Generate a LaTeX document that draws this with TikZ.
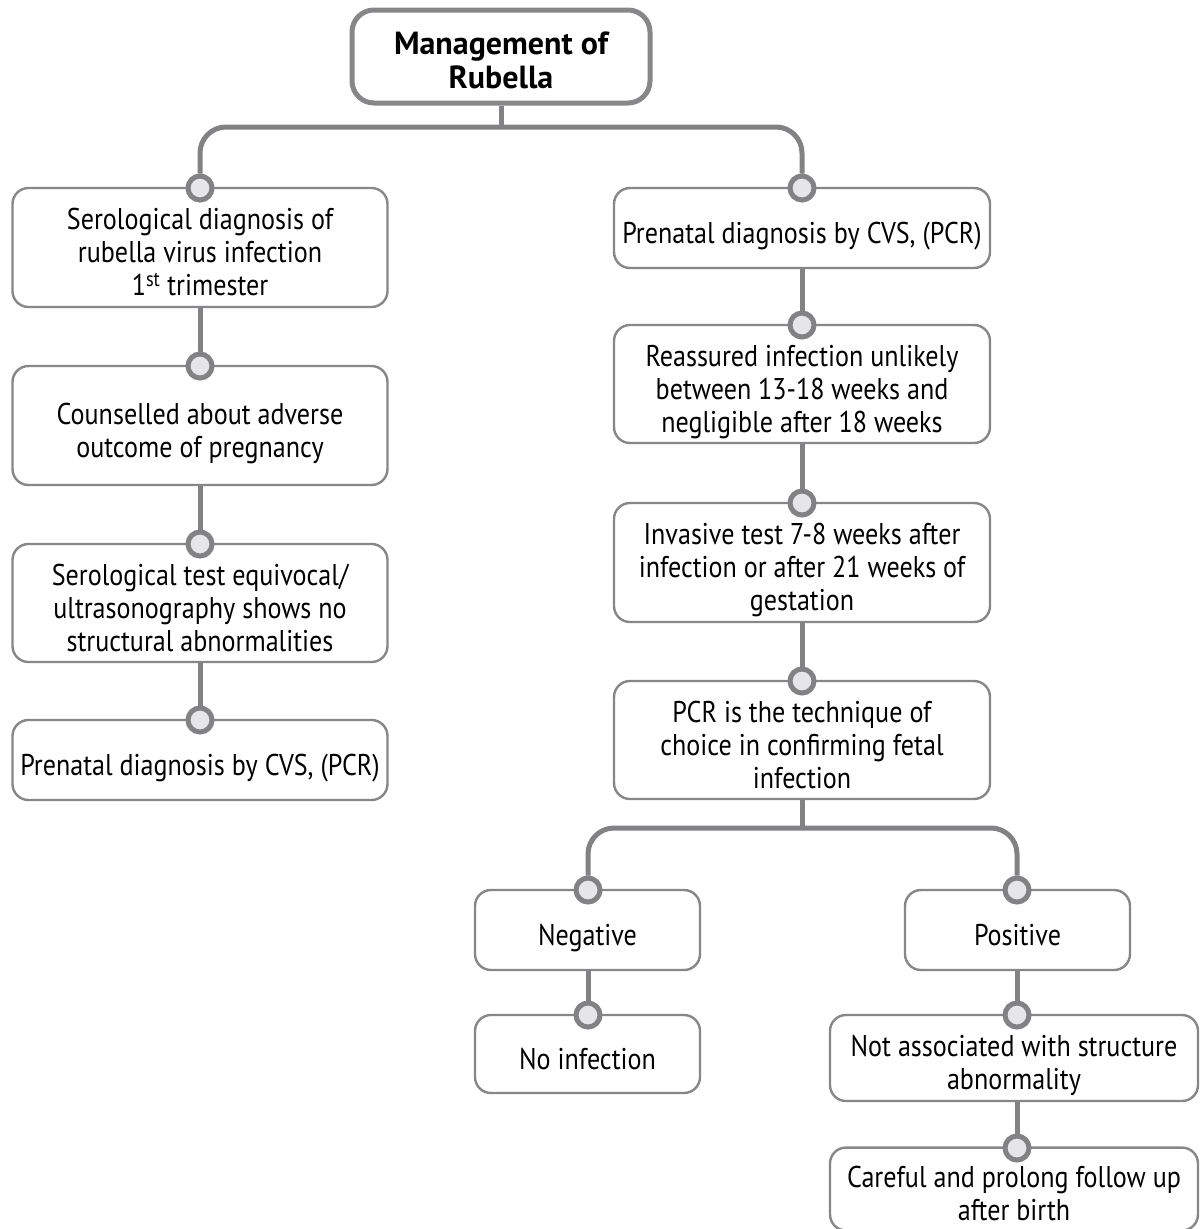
\documentclass[tikz,border=0pt]{standalone}
\usepackage{fontspec}
\setmainfont{PT Sans}[FakeStretch=0.87]
\newfontfamily\titlefont{PT Sans}
% centred block of lines, set a little low so it sits below the top dot
\newcommand\txt[1]{\begin{tabular}{@{}c@{}}\rule{0pt}{40pt}#1\end{tabular}}
\begin{document}
\begin{tikzpicture}[x=1pt,y=-1pt,
  box/.style={draw=boxgray, line width=2.4pt, rounded corners=16pt, fill=white,
    inner sep=0pt, font=\fontsize{30}{33}\selectfont},
  titlebox/.style={draw=boxgray, line width=5pt, rounded corners=22pt, fill=white,
    inner sep=0pt, font=\titlefont\fontsize{32}{34}\selectfont\bfseries},
  conn/.style={draw=linegray, line width=5pt},
  dot/.style={circle, draw=linegray, line width=5pt, fill=dotfill,
    minimum size=24pt, inner sep=0pt}
]
\definecolor{boxgray}{HTML}{87878A}
\definecolor{linegray}{HTML}{828285}
\definecolor{dotfill}{HTML}{E6E6E8}
\useasboundingbox (0,0) rectangle (1200,1229);

% title
\node[titlebox, minimum width=298pt, minimum height=93pt] (title) at (501,56.5)
  {\txt{Management of\\Rubella}};

% left column
\node[box, minimum width=375pt, minimum height=119pt] (l1) at (200,247.5)
  {\txt{Serological diagnosis of\\rubella virus infection\\1\textsuperscript{st} trimester}};
\node[box, minimum width=375pt, minimum height=119pt] (l2) at (200,425.5)
  {\txt{Counselled about adverse\\outcome of pregnancy}};
\node[box, minimum width=375pt, minimum height=118pt] (l3) at (200,603)
  {\txt{Serological test equivocal/\\ultrasonography shows no\\structural abnormalities}};
\node[box, minimum width=375pt, minimum height=80pt] (l4) at (200,760)
  {\txt{Prenatal diagnosis by CVS, (PCR)}};

% right column
\node[box, minimum width=376pt, minimum height=80pt] (r1) at (802,228)
  {\txt{Prenatal diagnosis by CVS, (PCR)}};
\node[box, minimum width=376pt, minimum height=118pt] (r2) at (802,384)
  {\txt{Reassured infection unlikely\\between 13-18 weeks and\\negligible after 18 weeks}};
\node[box, minimum width=376pt, minimum height=119pt] (r3) at (802,562.5)
  {\txt{Invasive test 7-8 weeks after\\infection or after 21 weeks of\\gestation}};
\node[box, minimum width=376pt, minimum height=118pt] (r4) at (802,740)
  {\txt{PCR is the technique of\\choice in confirming fetal\\infection}};

% outcome branch
\node[box, minimum width=225pt, minimum height=80pt] (neg) at (587.5,930)
  {\txt{Negative}};
\node[box, minimum width=225pt, minimum height=78pt] (noinf) at (587.5,1054)
  {\txt{No infection}};
\node[box, minimum width=225pt, minimum height=80pt] (pos) at (1017.5,930)
  {\txt{Positive}};
\node[box, minimum width=368pt, minimum height=86pt] (notas) at (1014,1058)
  {\txt{Not associated with structure\\abnormality}};
\node[box, minimum width=368pt, minimum height=81pt] (care) at (1014,1189)
  {\txt{Careful and prolong follow up\\after birth}};

% connector dots on box tops
\node[dot] (dl1) at (200,188) {};
\node[dot] (dl2) at (200,366) {};
\node[dot] (dl3) at (200,544) {};
\node[dot] (dl4) at (200,720) {};
\node[dot] (dr1) at (802,188) {};
\node[dot] (dr2) at (802,325) {};
\node[dot] (dr3) at (802,503) {};
\node[dot] (dr4) at (802,681) {};
\node[dot] (dneg) at (588,890) {};
\node[dot] (dnoinf) at (588,1015) {};
\node[dot] (dpos) at (1017,890) {};
\node[dot] (dnotas) at (1017,1015) {};
\node[dot] (dcare) at (1017,1148) {};

\coordinate (s1) at (501,127);
\coordinate (s2) at (802,828);

% connectors
\draw[conn] (title.south) -- (s1);
\draw[conn, rounded corners=26pt] (dl1.north) -- (dl1 |- s1) -- (dr1 |- s1) -- (dr1.north);
\draw[conn] (dl2.north) -- (dl2 |- l1.south);
\draw[conn] (dl3.north) -- (dl3 |- l2.south);
\draw[conn] (dl4.north) -- (dl4 |- l3.south);
\draw[conn] (dr2.north) -- (dr2 |- r1.south);
\draw[conn] (dr3.north) -- (dr3 |- r2.south);
\draw[conn] (dr4.north) -- (dr4 |- r3.south);
\draw[conn] (r4.south) -- (s2);
\draw[conn, rounded corners=26pt] (dneg.north) -- (dneg |- s2) -- (dpos |- s2) -- (dpos.north);
\draw[conn] (dnoinf.north) -- (dnoinf |- neg.south);
\draw[conn] (dnotas.north) -- (dnotas |- pos.south);
\draw[conn] (dcare.north) -- (dcare |- notas.south);
\end{tikzpicture}
\end{document}
